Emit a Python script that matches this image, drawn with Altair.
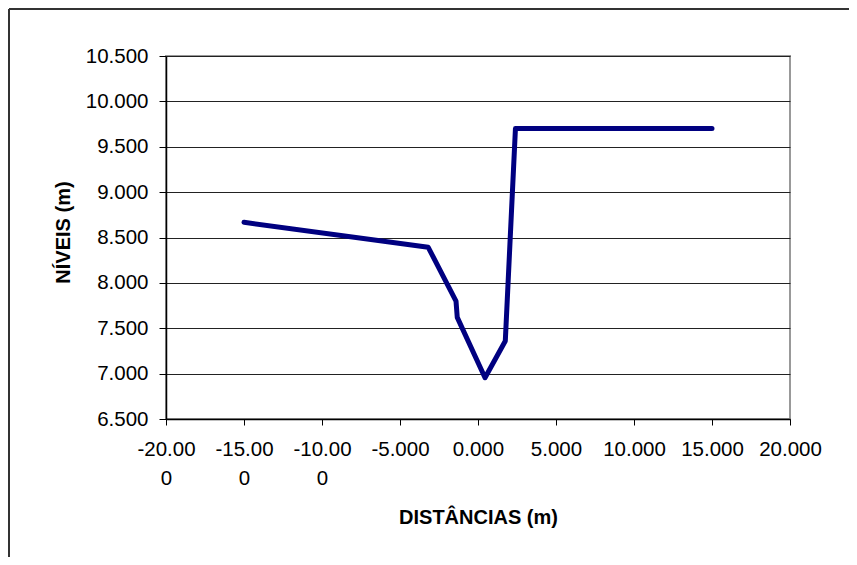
import altair as alt
import pandas as pd

# Data
distancias = [-15.0, -3.19, -1.41, -1.33, 0.45, 1.75, 2.40, 11.0, 15.0]
niveis = [8.667, 8.392, 7.80, 7.62, 6.955, 7.36, 9.70, 9.70, 9.70]

x_ticks = [-20, -15, -10, -5, 0, 5, 10, 15, 20]
x_tick_labels = [["-20.00", "0"], ["-15.00", "0"], ["-10.00", "0"], ["-5.000"],
                 ["0.000"], ["5.000"], ["10.000"], ["15.000"], ["20.000"]]
y_ticks = [6.5, 7.0, 7.5, 8.0, 8.5, 9.0, 9.5, 10.0, 10.5]

df = pd.DataFrame({"x": distancias, "y": niveis, "order": list(range(len(distancias)))})

# build label expression from the tick label list
expr = "format(datum.value, '.3f')"
for v, lab in reversed(list(zip(x_ticks, x_tick_labels))):
    arr = "[" + ",".join("'" + s + "'" for s in lab) + "]"
    expr = f"datum.value == {v} ? {arr} : ({expr})"

FONT = "Liberation Sans"

line = alt.Chart(df).mark_line(
    color="#000080", strokeWidth=5, strokeCap="round", strokeJoin="round"
).encode(
    x=alt.X(
        "x:Q",
        scale=alt.Scale(domain=[-20, 20], nice=False, zero=False),
        axis=alt.Axis(
            title="DISTÂNCIAS (m)",
            values=x_ticks,
            labelExpr=expr,
            grid=False,
            tickSize=6,
            labelPadding=14,
            labelLineHeight=29,
            labelOverlap=False,
            labelFlush=False,
            labelBound=False,
            titleY=98,
            titleBaseline="middle",
        ),
    ),
    y=alt.Y(
        "y:Q",
        scale=alt.Scale(domain=[6.5, 10.5], nice=False, zero=False),
        axis=alt.Axis(
            title="NÍVEIS (m)",
            values=y_ticks,
            format=".3f",
            grid=True,
            tickSize=7,
            labelPadding=11,
            labelOverlap=False,
            labelFlush=False,
            titleX=-103,
            titleY=176,
            titleBaseline="middle",
        ),
    ),
    order="order:Q",
)

border_top = alt.Chart(pd.DataFrame({"a": [0]})).mark_rule(
    color="#333333", strokeWidth=2
).encode(x=alt.value(-157), x2=alt.value(700), y=alt.value(-47))

border_left = alt.Chart(pd.DataFrame({"a": [0]})).mark_rule(
    color="#333333", strokeWidth=2
).encode(x=alt.value(-157), y=alt.value(-47), y2=alt.value(520))

chart = alt.layer(border_top, border_left, line).properties(
    width=624,
    height=363,
    autosize=alt.AutoSizeParams(type="none"),
    padding={"left": 158, "top": 48, "right": 59, "bottom": 138},
    background="white",
).configure_view(
    stroke="#999999", strokeWidth=2
).configure_axis(
    labelFont=FONT,
    titleFont=FONT,
    labelFontSize=20.5,
    titleFontSize=20,
    titleFontWeight="bold",
    labelColor="black",
    titleColor="black",
    domainColor="black",
    domainWidth=1.5,
    tickColor="black",
    tickWidth=1,
    gridColor="#222222",
    gridWidth=1,
    gridOpacity=1,
)

chart.save("out.html", embed_options={"renderer": "svg", "actions": False})
